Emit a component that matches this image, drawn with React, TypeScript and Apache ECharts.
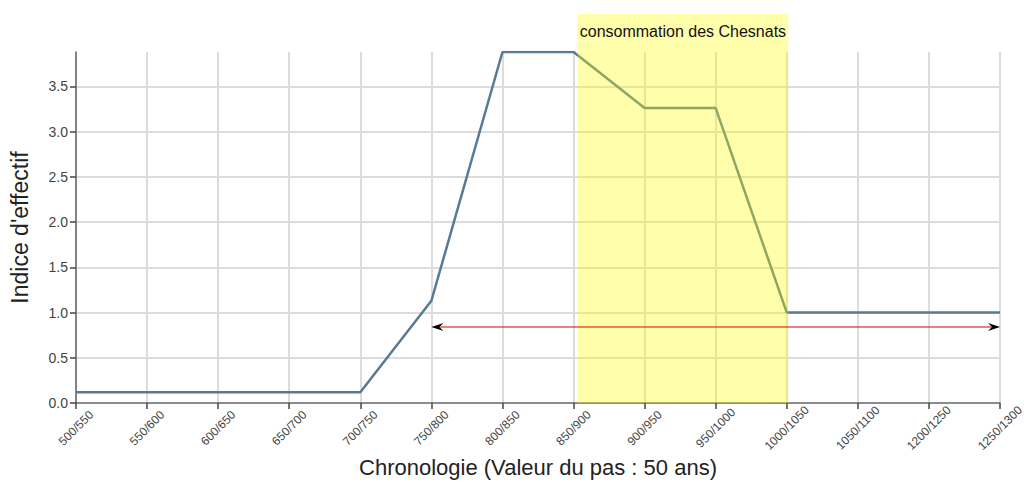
import React, { useEffect, useRef } from "react";
import * as echarts from "echarts";

const categories = [
  "500/550", "550/600", "600/650", "650/700", "700/750", "750/800", "800/850",
  "850/900", "900/950", "950/1000", "1000/1050", "1050/1100", "1200/1250", "1250/1300",
];
const values = [0.12, 0.12, 0.12, 0.12, 0.12, 1.13, 3.88, 3.88, 3.26, 3.26, 1.0, 1.0, 1.0, 1.0];
const yMax = 3.88;
const yInterval = 0.5;
const bandStart = "850/900";
const bandEnd = "1000/1050";
const bandLabel = "consommation des Chesnats";
const arrowStart = "750/800";
const arrowEnd = "1250/1300";
const arrowValue = 0.84;
const xTitle = "Chronologie (Valeur du pas : 50 ans)";
const yTitle = "Indice d'effectif";

const FONT = "'Liberation Sans', Arial, sans-serif";

export default function App() {
  const ref = useRef<HTMLDivElement>(null);
  useEffect(() => {
    if (!ref.current) return;
    const chart = echarts.init(ref.current, null, { renderer: "svg" });
    chart.setOption({
      animation: false,
      grid: { left: 76, right: 24, top: 52, bottom: 80, containLabel: false, outerBoundsMode: "none" },
      xAxis: {
        type: "category",
        data: categories,
        boundaryGap: false,
        name: xTitle,
        nameLocation: "middle",
        nameGap: 53,
        nameMoveOverlap: false,
        nameTextStyle: { fontFamily: FONT, fontSize: 22, color: "#222" },
        axisLine: { show: true, lineStyle: { color: "#666", width: 1.5 } },
        axisTick: { show: true, interval: 0, length: 6, lineStyle: { color: "#444", width: 1.5 } },
        axisLabel: {
          interval: 0, rotate: 45, fontFamily: FONT, fontSize: 12, color: "#444", margin: 25,
          align: "center", verticalAlign: "middle", hideOverlap: false,
        },
        splitLine: { show: true, interval: 0, lineStyle: { color: "#dcdcdc", width: 2 } },
      },
      yAxis: {
        type: "value",
        min: 0,
        max: yMax,
        interval: yInterval,
        name: yTitle,
        nameLocation: "middle",
        nameGap: 45,
        nameMoveOverlap: false,
        nameTextStyle: { fontFamily: FONT, fontSize: 23, color: "#222" },
        axisLine: { show: true, lineStyle: { color: "#666", width: 1.5 } },
        axisTick: { show: true, length: 6, lineStyle: { color: "#444", width: 1.5 } },
        axisLabel: {
          fontFamily: FONT, fontSize: 14, color: "#444", margin: 8, showMaxLabel: false,
          formatter: (v: number) => v.toFixed(1),
        },
        splitLine: { show: true, showMaxLine: false, showMinLine: false, lineStyle: { color: "#dcdcdc", width: 2 } },
      },
      series: [
        {
          type: "line",
          data: values,
          symbol: "none",
          lineStyle: { color: "#587a92", width: 2.5 },
          z: 3,
        },
      ],
    });

    const px = (cat: string, v: number) =>
      chart.convertToPixel({ xAxisIndex: 0, yAxisIndex: 0 }, [categories.indexOf(cat), v]) as number[];
    const b0 = px(bandStart, 0);
    const b1 = px(bandEnd, 0);
    const top = px(bandStart, yMax)[1];
    const bx0 = b0[0] + 4;
    const bx1 = b1[0] + 1.5;
    const bandTop = top - 38;
    const a0 = px(arrowStart, arrowValue);
    const a1 = px(arrowEnd, arrowValue);

    chart.setOption({
      graphic: [
        {
          type: "rect",
          z: 100,
          shape: { x: bx0, y: bandTop, width: bx1 - bx0, height: b0[1] - bandTop },
          style: { fill: "rgba(255,255,0,0.33)" },
        },
        {
          type: "text",
          z: 101,
          x: (bx0 + bx1) / 2,
          y: bandTop + 17,
          style: {
            text: bandLabel, fill: "#111", font: `16px ${FONT}`,
            textAlign: "center", textVerticalAlign: "middle",
          },
        },
        {
          type: "line",
          z: 102,
          shape: { x1: a0[0] + 8, y1: a0[1], x2: a1[0] - 8, y2: a1[1] },
          style: { stroke: "#e00000", lineWidth: 1.2 },
        },
        {
          type: "polygon",
          z: 103,
          shape: { points: [[a0[0], a0[1]], [a0[0] + 12, a0[1] - 4], [a0[0] + 8, a0[1]], [a0[0] + 12, a0[1] + 4]] },
          style: { fill: "#000" },
        },
        {
          type: "polygon",
          z: 103,
          shape: { points: [[a1[0], a1[1]], [a1[0] - 12, a1[1] - 4], [a1[0] - 8, a1[1]], [a1[0] - 12, a1[1] + 4]] },
          style: { fill: "#000" },
        },
      ],
    });

    return () => chart.dispose();
  }, []);
  return (
    <div
      ref={ref}
      style={{ position: "fixed", left: 0, top: 0, width: 1024, height: 483, background: "#fff" }}
    />
  );
}
